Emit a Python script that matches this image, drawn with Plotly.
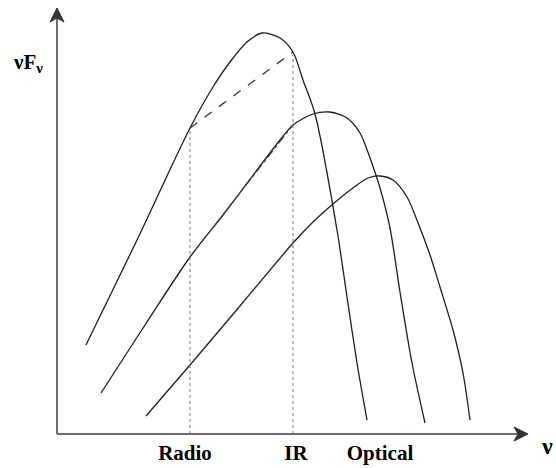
import plotly.graph_objects as go

# Schematic SED curves (arbitrary units: x = frequency, y = nuF_nu)
c1_x = [29, 81, 133, 156, 173, 190, 205, 223, 236, 246, 258, 280, 290, 300, 310]
c1_y = [89, 196, 306, 347, 372, 392, 401, 396, 382, 354, 320, 204, 137, 71, 14]

c2_x = [44, 88, 133, 166, 200, 223, 236, 256, 273, 290, 303, 313, 323, 333, 343, 355, 368]
c2_y = [41, 109, 177, 219, 264, 294, 309, 320, 322, 316, 301, 276, 246, 206, 142, 71, 11]

c3_x = [89, 133, 183, 236, 256, 276, 296, 311, 323, 336, 350, 363, 373, 383, 396, 406, 413]
c3_y = [18, 69, 128, 191, 212, 230, 246, 256, 258, 254, 237, 206, 179, 147, 104, 61, 14]

# Band frequencies and the curve values there
radio_x = 133
ir_x = 236
radio_vals = [306, 177, 69]
ir_vals = [382, 309, 191]

band_labels = ["Radio", "IR", "Optical"]
band_label_x = [128, 239, 323]

x_max = 471
y_max = 426

curve_color = "#1e1e1e"
fig = go.Figure()

for xs, ys in [(c1_x, c1_y), (c2_x, c2_y), (c3_x, c3_y)]:
    fig.add_trace(go.Scatter(x=xs, y=ys, mode="lines",
                             line=dict(color=curve_color, width=1.3, shape="spline", smoothing=0.8),
                             hoverinfo="skip", showlegend=False))

# Vertical dotted band markers
fig.add_trace(go.Scatter(x=[radio_x, radio_x], y=[0, radio_vals[0]], mode="lines",
                         line=dict(color="#808080", width=1.1, dash="dot"), showlegend=False))
fig.add_trace(go.Scatter(x=[ir_x, ir_x], y=[0, ir_vals[0]], mode="lines",
                         line=dict(color="#808080", width=1.1, dash="dot"), showlegend=False))

# Dashed connector on top curve
fig.add_trace(go.Scatter(x=[radio_x, ir_x], y=[radio_vals[0], ir_vals[0]], mode="lines",
                         line=dict(color="#333333", width=1.3, dash="dash"), showlegend=False))
# Dash-dot connectors on lower curves
for i in (1, 2):
    fig.add_trace(go.Scatter(x=[radio_x, ir_x], y=[radio_vals[i], ir_vals[i]], mode="lines",
                             line=dict(color="#444444", width=1.1, dash="dashdot"), showlegend=False))

axis_col = "#6e6e6e"
serif = "Liberation Serif"

head_len = 14
head_half = 7
notch = 10
shapes = [
    dict(type="line", xref="x", yref="y", x0=0, y0=0, x1=x_max - notch, y1=0,
         line=dict(color=axis_col, width=2), layer="below"),
    dict(type="line", xref="x", yref="y", x0=0, y0=0, x1=0, y1=y_max - notch,
         line=dict(color=axis_col, width=2), layer="below"),
    dict(type="path", xref="x", yref="y",
         path=f"M {x_max},0 L {x_max - head_len},{head_half} L {x_max - notch},0 "
              f"L {x_max - head_len},{-head_half} Z",
         fillcolor="#333333", line=dict(color="#333333", width=1)),
    dict(type="path", xref="x", yref="y",
         path=f"M 0,{y_max} L {head_half},{y_max - head_len} L 0,{y_max - notch} "
              f"L {-head_half},{y_max - head_len} Z",
         fillcolor="#333333", line=dict(color="#333333", width=1)),
]

annotations = [
    dict(x=0.982, y=-0.005, xref="paper", yref="paper", text="<b>ν</b>", showarrow=False,
         xanchor="center", yanchor="middle",
         font=dict(family=serif, size=24, color="black")),
    dict(x=-0.037, y=0.858, xref="paper", yref="paper", text="<b>νF<sub>ν</sub></b>", showarrow=False,
         xanchor="center", yanchor="middle",
         font=dict(family=serif, size=21, color="black")),
]

fig.update_layout(
    width=556, height=468,
    margin=dict(l=47, r=0, t=0, b=24, autoexpand=False),
    plot_bgcolor="white", paper_bgcolor="white",
    shapes=shapes,
    annotations=annotations,
    xaxis=dict(range=[-10, 499], showgrid=False, zeroline=False, showline=False,
               tickvals=band_label_x, ticktext=[f"<b>{t}</b>" for t in band_labels],
               ticks="", tickfont=dict(family=serif, size=21, color="black"),
               ticklabelstandoff=-6, automargin=False, fixedrange=True),
    yaxis=dict(range=[-10, 434], showgrid=False, zeroline=False, showline=False,
               showticklabels=False, ticks="", automargin=False, fixedrange=True),
)

fig.write_html("out.html", config={"displayModeBar": False},
               post_script="document.body.style.margin='0';document.body.style.overflow='hidden';")
